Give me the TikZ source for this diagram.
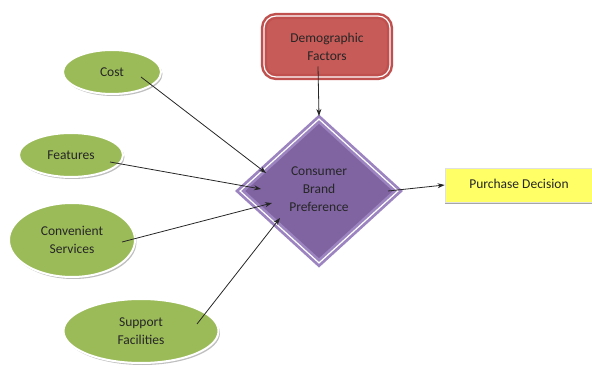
\documentclass[tikz,border=0pt]{standalone}
\usepackage{fontspec}
\setmainfont{Carlito}
\usetikzlibrary{shapes.geometric,arrows.meta,shadows}
\definecolor{lgreen}{HTML}{9BBB59}
\definecolor{purp}{HTML}{8064A2}
\definecolor{purpb}{HTML}{9C84C0}
\definecolor{redf}{HTML}{C75B58}
\definecolor{redb}{HTML}{C0504D}
\definecolor{yel}{HTML}{FFFF66}
\tikzset{
  txt/.style={font=\fontsize{13.5}{18}\selectfont, text=black!85, align=center},
  oval/.style={ellipse, txt, fill=lgreen, draw=white, line width=2pt, inner sep=0pt,
    drop shadow={shadow xshift=1.5pt, shadow yshift=-2pt, opacity=.25, fill=black}},
  arr/.style={-{Stealth[length=7pt,width=5pt]}, line width=0.8pt, draw=black!85},
}
\begin{document}
\begin{tikzpicture}[x=1pt,y=-1pt]
\useasboundingbox (0,0) rectangle (592,366);
% ellipses
\node[oval, minimum width=98, minimum height=44] (cost) at (112,72) {Cost};
\node[oval, minimum width=104, minimum height=44] (feat) at (71,155) {Features};
\node[oval, minimum width=126, minimum height=74] (conv) at (72,240) {Convenient\\Services};
\node[oval, minimum width=155, minimum height=64] (supp) at (141,331) {Support\\Facilities};
% demographic
\node[txt, draw=redb, fill=redf, rounded corners=12pt, line width=2.5pt, double=white,
  double distance=1.2pt, minimum width=126, minimum height=61] (demo) at (327,46.5) {Demographic\\Factors};
% diamond
\node[diamond, txt, draw=purpb, fill=purp, line width=2.8pt, double=white, double distance=1.2pt,
  minimum width=159, minimum height=145, inner sep=0pt] (dia) at (319,191) {};
\node[txt] (diat) at (319,189) {Consumer\\Brand\\Preference};
% purchase
\node[txt, fill=yel, draw=black!12, line width=0.8pt, minimum width=165, minimum height=34,
  drop shadow={shadow xshift=0pt, shadow yshift=-2.5pt, opacity=.35, fill=black}] (pur) at (527.5,185) {};
\node[txt] (purt) at (519,184) {Purchase Decision};
% connectors
\draw[arr] ([shift={(29,5)}]cost.center) -- ([shift={(-53,-18)}]dia.center);
\draw[arr] ([shift={(39,7)}]feat.center) -- ([shift={(-58,-2)}]dia.center);
\draw[arr] ([shift={(50,2)}]conv.center) -- ([shift={(-47,12)}]dia.center);
\draw[arr] ([shift={(56,-7)}]supp.center) -- ([shift={(-39,27)}]dia.center);
\draw[arr] ([shift={(-9,20)}]demo.center) -- ([shift={(0,-75)}]dia.center);
\draw[arr] ([shift={(69,0)}]dia.center) -- (pur.west);
\end{tikzpicture}
\end{document}
